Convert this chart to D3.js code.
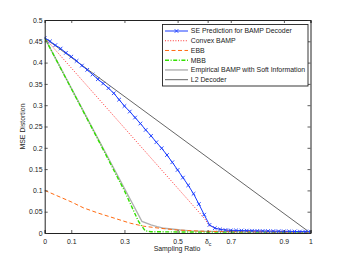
<!DOCTYPE html>
<html><head><meta charset="utf-8">
<script src="https://cdn.jsdelivr.net/npm/d3@7"></script>
<style>body{margin:0;background:#fff}svg{display:block}text{font-family:"Liberation Sans",Arial,sans-serif}</style>
</head><body><svg id="c" width="343" height="263"></svg>
<script>
// SE prediction (sampled every 0.02)
const seX = [0,0.02,0.04,0.06,0.08,0.10,0.12,0.14,0.16,0.18,0.20,0.22,0.24,0.26,0.28,0.30,0.32,0.34,0.36,0.38,0.40,0.42,0.44,0.46,0.48,0.50,0.52,0.54,0.56,0.58,0.60,0.62,0.64,0.66,0.68,0.70,0.72,0.74,0.76,0.78,0.80,0.82,0.84,0.86,0.88,0.90,0.92,0.94,0.96,0.98,1.00];
const seY = [0.458,0.450,0.441,0.433,0.423,0.414,0.404,0.393,0.383,0.372,0.361,0.351,0.340,0.328,0.313,0.298,0.285,0.271,0.257,0.242,0.228,0.213,0.199,0.183,0.166,0.148,0.130,0.112,0.092,0.068,0.043,0.019,0.0115,0.0085,0.007,0.0062,0.006,0.0058,0.0055,0.0053,0.005,0.0048,0.0046,0.0044,0.0042,0.004,0.0038,0.0036,0.0034,0.0032,0.003];
const convexX = [0,0.60,0.62,0.65,0.70,1.0];
const convexY = [0.458,0.035,0.017,0.010,0.006,0.003];
const ebbX = [0,0.1,0.146,0.2,0.322,0.372,0.435,0.5,0.6,0.7,1.0];
const ebbY = [0.100,0.073,0.059,0.047,0.023,0.016,0.011,0.007,0.004,0.003,0.002];
const mbbX = [0,0.1,0.2,0.3,0.353,0.378,0.4,0.6,1.0];
const mbbY = [0.458,0.339,0.220,0.099,0.027,0.005,0.003,0.002,0.002];
const empX = [0,0.183,0.366,0.4,0.423,0.45,0.511,0.55,0.6,0.8,1.0];
const empY = [0.458,0.242,0.027,0.019,0.015,0.011,0.007,0.005,0.004,0.003,0.002];
const l2X = [0,1];
const l2Y = [0.458,0];
const xTicks = [0,0.1,0.3,0.5,0.613,0.7,0.9,1];
const xTickLabels = ["0","0.1","0.3","0.5","δc","0.7","0.9","1"];
const yTicks = [0,0.05,0.1,0.15,0.2,0.25,0.3,0.35,0.4,0.45,0.5];
const legendLabels = ["SE Prediction for BAMP Decoder","Convex BAMP","EBB","MBB","Empirical BAMP with Soft Information","L2 Decoder"];

const svg = d3.select("#c");
const L=44.7,R=310.5,T=20,B=233;
const x = d3.scaleLinear().domain([0,1]).range([L,R]);
const y = d3.scaleLinear().domain([0,0.5]).range([B,T]);
const fs = 6.9;

svg.append("defs").append("clipPath").attr("id","clip").append("rect")
  .attr("x",L).attr("y",T).attr("width",R-L).attr("height",B-T);

const styles = [
  {c:"#1a3cff",w:1,d:null},
  {c:"#ff3030",w:1,d:"1,1.6"},
  {c:"#ff6a10",w:1,d:"4,2.5"},
  {c:"#33e000",w:1.4,d:"4,1.6,1,1.6"},
  {c:"#b0b0b0",w:1.4,d:null},
  {c:"#555555",w:0.9,d:null}
];
const series = [[seX,seY],[convexX,convexY],[ebbX,ebbY],[mbbX,mbbY],[empX,empY],[l2X,l2Y]];
const line = d3.line().x(d=>x(d[0])).y(d=>y(d[1]));
const g = svg.append("g").attr("clip-path","url(#clip)");
const order=[5,4,3,2,1,0];
order.forEach(i=>{
  const pts = series[i][0].map((v,k)=>[v,series[i][1][k]]);
  g.append("path").datum(pts).attr("d",line).attr("fill","none")
   .attr("stroke",styles[i].c).attr("stroke-width",styles[i].w)
   .attr("stroke-dasharray",styles[i].d);
});
// markers
const m=1.8;
const sePts = seX.map((v,k)=>[v,seY[k]]);
g.selectAll("path.mk").data(sePts).enter().append("path").attr("class","mk")
  .attr("d",d=>{const cx=x(d[0]),cy=y(d[1]);return `M${cx-m},${cy-m}L${cx+m},${cy+m}M${cx-m},${cy+m}L${cx+m},${cy-m}`;})
  .attr("stroke",styles[0].c).attr("stroke-width",0.9).attr("fill","none");

// axes
const ax = svg.append("g").attr("transform",`translate(0,${B})`)
  .call(d3.axisBottom(x).tickValues(xTicks).tickSize(-3).tickPadding(4).tickFormat((d,i)=>""));
const ay = svg.append("g").attr("transform",`translate(${L},0)`)
  .call(d3.axisLeft(y).tickValues(yTicks).tickSize(-3).tickPadding(4).tickFormat(d3.format("")));
svg.append("g").attr("transform",`translate(0,${T})`)
  .call(d3.axisTop(x).tickValues(xTicks).tickSize(-3).tickFormat(()=>""));
svg.append("g").attr("transform",`translate(${R},0)`)
  .call(d3.axisRight(y).tickValues(yTicks).tickSize(-3).tickFormat(()=>""));
svg.selectAll(".domain").attr("stroke","#222").attr("stroke-width",1);
svg.selectAll(".tick line").attr("stroke","#333").attr("stroke-width",0.8);
ay.selectAll("text").attr("font-size",fs).attr("fill","#222").attr("font-family","Liberation Sans, Arial, sans-serif").attr("x",-2.2);
// x tick labels
ax.selectAll(".tick").each(function(d,i){
  const t = d3.select(this).append("text").attr("y",11).attr("fill","#222")
    .attr("font-size",fs).attr("text-anchor","middle").attr("font-family","Liberation Sans, Arial, sans-serif");
  if(xTickLabels[i]==="δc"){
    t.append("tspan").text("δ");
    t.append("tspan").attr("dy",2).attr("font-size",fs*0.75).text("c");
  } else t.text(xTickLabels[i]);
});

svg.append("text").attr("x",177).attr("y",250.5).attr("text-anchor","middle")
  .attr("font-size",fs).attr("fill","#222").text("Sampling Ratio");
svg.append("text").attr("transform","translate(24.5,126.5) rotate(-90)").attr("text-anchor","middle")
  .attr("font-size",fs).attr("fill","#222").text("MSE Distortion");

// legend
const lg = svg.append("g");
lg.append("rect").attr("x",162.5).attr("y",24.5).attr("width",145.5).attr("height",61.5)
  .attr("fill","#fff").attr("stroke","#222").attr("stroke-width",0.9);
const rowY = d3.scalePoint().domain(d3.range(legendLabels.length)).range([31,79.7]);
legendLabels.forEach((lab,i)=>{
  const yy = rowY(i);
  lg.append("line").attr("x1",165).attr("x2",188).attr("y1",yy).attr("y2",yy)
    .attr("stroke",styles[i].c).attr("stroke-width",styles[i].w).attr("stroke-dasharray",styles[i].d);
  if(i===0){
    lg.append("path").attr("d",`M${176.5-m},${yy-m}L${176.5+m},${yy+m}M${176.5-m},${yy+m}L${176.5+m},${yy-m}`)
      .attr("stroke",styles[0].c).attr("stroke-width",0.9);
  }
  lg.append("text").attr("x",190.8).attr("y",yy+2.4).attr("font-size",fs).attr("fill","#222").text(lab);
});
</script></body></html>
